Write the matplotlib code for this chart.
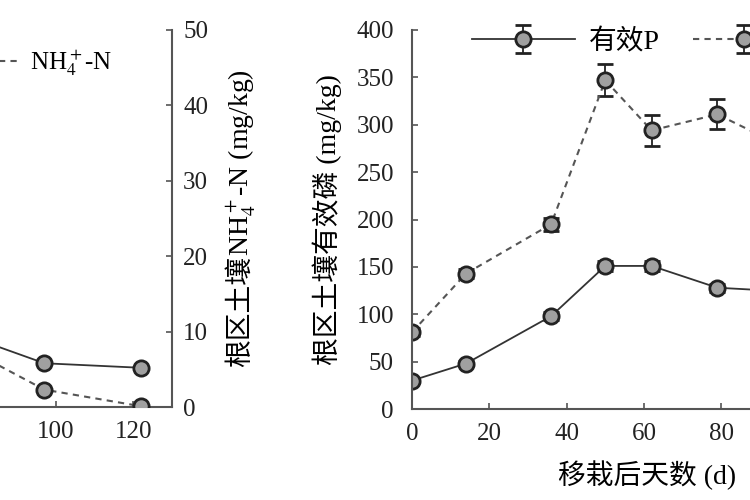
import matplotlib
matplotlib.use('Agg')
import matplotlib.pyplot as plt

plt.rcParams['font.family'] = ['Liberation Serif', 'Noto Sans CJK SC']
plt.rcParams['mathtext.fontset'] = 'stix'
plt.rcParams['axes.unicode_minus'] = False

# 右图：有效磷 (mg/kg)
days_p = [0, 14, 36, 50, 62, 79, 97]
p_avail = [30, 48, 98, 151, 151, 128, 124]
p_avail_err = [3, 3, 4, 5, 5, 4, 4]
p_other = [81, 143, 195, 347, 294, 311, 275]
p_other_err = [4, 5, 7, 17, 16, 16, 12]

# 左图：氮 (mg/kg)，只能看到最后几个点
days_n = [79, 97, 122]
no3_n = [9.1, 5.8, 5.2]
nh4_n = [7.2, 2.3, 0.1]

xticks_left = [100, 120]
xticks_right = [0, 20, 40, 60, 80]
p_ticks = [0, 50, 100, 150, 200, 250, 300, 350, 400]
n_ticks = [0, 10, 20, 30, 40, 50]

FS = 18
LFS = 20
line_c = '#333333'
dash_c = '#555555'
spine_c = '#555555'


def style(ax, sides):
    for s in ['top', 'right', 'left', 'bottom']:
        ax.spines[s].set_visible(s in sides)
        ax.spines[s].set_color(spine_c)
        ax.spines[s].set_linewidth(1.5)
    ax.tick_params(direction='in', length=4, width=1.2, colors=spine_c,
                   labelcolor='#222222', labelsize=FS)
    ax.tick_params(axis='x', pad=10)
    ax.tick_params(axis='y', pad=13)


mk = dict(marker='o', markersize=11, markeredgewidth=2,
          markeredgecolor='#222222', markerfacecolor='#a0a0a0')

fig = plt.figure(figsize=(7.5, 5), dpi=100)

# ---- left panel (mostly cut off) ----
axL = fig.add_axes([-0.4407, 0.186, 0.67, 0.754])
axL2 = axL.twinx()
axL.plot(days_n, no3_n, color=line_c, lw=1.3, label='NO$_3^-$-N', **mk)
axL2.plot(days_n, nh4_n, color=dash_c, lw=1.5, ls=(0, (3, 2.5)),
          label='NH$_4^+$-N', **mk)
for a in (axL, axL2):
    a.set_xlim(0, 130)
    a.set_ylim(0, 50)
    a.set_yticks(n_ticks)
axL.set_xticks(xticks_left)
style(axL, ['left', 'bottom'])
style(axL2, ['right'])
axL.tick_params(axis='y', labelleft=False)
axL2.tick_params(axis='y', pad=8)

# y label of the right-hand axis: CJK part and formula part drawn apart
t1 = fig.text(241 / 750, 1 - 367 / 500, '根区土壤', rotation=90,
              fontsize=LFS, ha='center', va='bottom')
fig.canvas.draw()
bb = t1.get_window_extent()
fig.text(241 / 750, bb.y1 / fig.bbox.height, 'NH$_4^+$-N (mg/kg)',
         rotation=90, fontsize=LFS, ha='center', va='bottom')

h1, l1 = axL.get_legend_handles_labels()
h2, l2 = axL2.get_legend_handles_labels()
fig.legend(h1 + h2, l1 + l2, ncol=2, frameon=False, fontsize=18,
           loc='center right', bbox_to_anchor=(112 / 750, 1 - 63 / 500),
           borderpad=0, borderaxespad=0, handlelength=4.0,
           handletextpad=0.5, columnspacing=1.2)

# ---- right panel ----
axR = fig.add_axes([0.5493, 0.182, 0.67, 0.758])
axR.errorbar(days_p, p_avail, yerr=p_avail_err, color=line_c, lw=1.3,
             ecolor='#222222', elinewidth=1.3, capsize=6, capthick=1.3,
             label='有效P', **mk)
axR.errorbar(days_p, p_other, yerr=p_other_err, color=dash_c, lw=1.5,
             ls=(0, (3, 2.5)), ecolor='#222222', elinewidth=1.3, capsize=6,
             capthick=1.3, label='全P', **mk)
axR.set_xlim(0, 130)
axR.set_ylim(0, 400)
axR.set_xticks(xticks_right)
axR.set_yticks(p_ticks)
style(axR, ['left', 'bottom'])
axR.set_xlabel('移栽后天数 (d)', fontsize=LFS)
axR.xaxis.set_label_coords((647 - 412) / 502, -0.135)
axR.set_ylabel('根区土壤有效磷 (mg/kg)', fontsize=LFS, va='center')
axR.yaxis.set_label_coords((327 - 412) / 502, 0.5)
axR.legend(ncol=2, frameon=False, fontsize=LFS, loc='center left',
           bbox_to_anchor=(472 / 750, 1 - 42 / 500),
           bbox_transform=fig.transFigure, borderpad=0, borderaxespad=0,
           handlelength=3.7, handletextpad=0.5, columnspacing=1.2)

fig.savefig('out.png', dpi=100)
